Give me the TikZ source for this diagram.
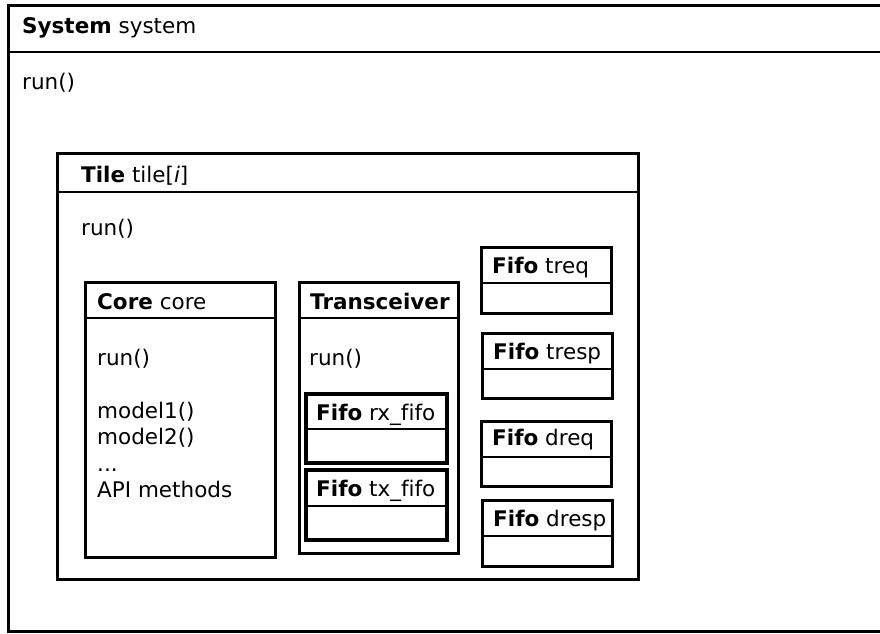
\documentclass[tikz,border=0pt]{standalone}
\usepackage{fontspec}
\setmainfont[Ligatures=NoCommon]{DejaVu Sans}
\usepackage{tikz}
\usetikzlibrary{positioning, calc}
\tikzstyle{block} = [draw, rectangle, line width=3pt, anchor=north west, inner sep=0pt, outer sep=0pt]
\tikzstyle{fifo} = [block, minimum width=130pt, minimum height=66pt]
\tikzstyle{lbl} = [anchor=base west, inner sep=0pt, font=\fontsize{21.5}{26.5}\selectfont]
\tikzstyle{sep} = [line width=1.2pt]

\begin{document}
\begin{tikzpicture}[x=1pt, y=-1pt]
    \useasboundingbox (0,0) rectangle (880,633);

    % system (right side runs off the page)
    \node[block, minimum width=900pt, minimum height=626pt] (sys) at (8,5) {};
    \draw[sep] ($(sys.north west)+(0,47)$) -- ($(sys.north east)+(0,47)$);
    \node[lbl] (systitle) at ($(sys.north west)+(14,28)$) {\textbf{System} system};
    \node[lbl] (sysrun) at ($(sys.north west)+(14,84)$) {run()};

    % tile
    \node[block, minimum width=581pt, minimum height=426pt] (tile) at (57,153) {};
    \draw[sep] ($(tile.north west)+(0,39)$) -- ($(tile.north east)+(0,39)$);
    \node[lbl] (tiletitle) at ($(tile.north west)+(24,29)$) {\textbf{Tile} tile[\textit{i}]};
    \node[lbl] (tilerun) at ($(tile.north west)+(24,82)$) {run()};

    % core
    \node[block, minimum width=190pt, minimum height=275pt] (core) at (85,282) {};
    \draw[sep] ($(core.north west)+(0,36)$) -- ($(core.north east)+(0,36)$);
    \node[lbl] (coretitle) at ($(core.north west)+(12,27)$) {\textbf{Core} core};
    \node[lbl] (corerun) at ($(core.north west)+(12,83)$) {run()};
    \node[lbl] (model1) at ($(core.north west)+(12,136)$) {model1()};
    \node[lbl] (model2) at ($(core.north west)+(12,162.5)$) {model2()};
    \node[lbl] (dots) at ($(core.north west)+(12,189)$) {...};
    \node[lbl] (api) at ($(core.north west)+(12,215.5)$) {API methods};

    % transceiver
    \node[block, minimum width=159pt, minimum height=271pt] (trx) at (299,282) {};
    \draw[sep] ($(trx.north west)+(0,36)$) -- ($(trx.north east)+(0,36)$);
    \node[lbl] (trxtitle) at ($(trx.north west)+(11,27)$) {\textbf{Transceiver}};
    \node[lbl] (trxrun) at ($(trx.north west)+(10,83)$) {run()};

    % fifos inside transceiver
    \node[block, line width=3.5pt, minimum width=141pt, minimum height=69pt] (rxf) at (306,394) {};
    \draw[sep] ($(rxf.north west)+(0,35)$) -- ($(rxf.north east)+(0,35)$);
    \node[lbl] (rxftitle) at ($(rxf.north west)+(10,26)$) {\textbf{Fifo} rx\_fifo};
    \node[block, line width=3.5pt, minimum width=141pt, minimum height=70pt] (txf) at (306,470) {};
    \draw[sep] ($(txf.north west)+(0,36)$) -- ($(txf.north east)+(0,36)$);
    \node[lbl] (txftitle) at ($(txf.north west)+(10,26)$) {\textbf{Fifo} tx\_fifo};

    % fifos of the tile
    \node[fifo] (treq) at (481,247) {};
    \draw[sep] ($(treq.north west)+(0,36)$) -- ($(treq.north east)+(0,36)$);
    \node[lbl] (treqtitle) at ($(treq.north west)+(11,26)$) {\textbf{Fifo} treq};
    \node[fifo, minimum height=65pt] (tresp) at (482,333) {};
    \draw[sep] ($(tresp.north west)+(0,36)$) -- ($(tresp.north east)+(0,36)$);
    \node[lbl] (tresptitle) at ($(tresp.north west)+(11,26)$) {\textbf{Fifo} tresp};
    \node[fifo, minimum height=65pt] (dreq) at (481,421) {};
    \draw[sep] ($(dreq.north west)+(0,36)$) -- ($(dreq.north east)+(0,36)$);
    \node[lbl] (dreqtitle) at ($(dreq.north west)+(11,24)$) {\textbf{Fifo} dreq};
    \node[fifo] (dresp) at (482,500) {};
    \draw[sep] ($(dresp.north west)+(0,36)$) -- ($(dresp.north east)+(0,36)$);
    \node[lbl] (dresptitle) at ($(dresp.north west)+(11,26)$) {\textbf{Fifo} dresp};
\end{tikzpicture}
\end{document}
